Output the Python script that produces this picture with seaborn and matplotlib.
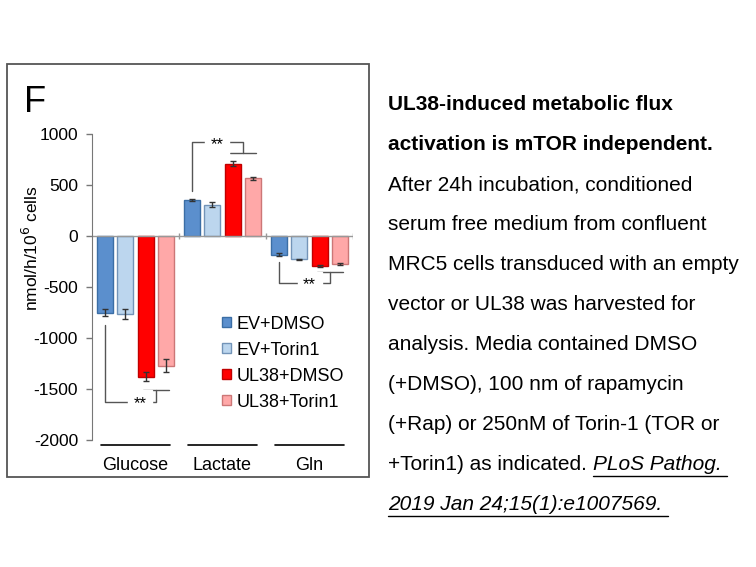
import numpy as np
import pandas as pd
import matplotlib
matplotlib.use("Agg")
import matplotlib.pyplot as plt
import seaborn as sns
from matplotlib.lines import Line2D
from matplotlib.patches import Rectangle

# === 1. Data ===
metabolites = ["Glucose", "Lactate", "Gln"]
conditions = ["EV+DMSO", "EV+Torin1", "UL38+DMSO", "UL38+Torin1"]
flux_ev_dmso = [-750, 355, -185]
flux_ev_torin = [-765, 305, -230]
flux_ul38_dmso = [-1380, 710, -295]
flux_ul38_torin = [-1270, 565, -275]
err_ev_dmso = [30, 10, 15]
err_ev_torin = [45, 25, 8]
err_ul38_dmso = [45, 25, 8]
err_ul38_torin = [65, 18, 10]

bar_colors = ["#5b8fcd", "#bcd6ee", "#ff0000", "#ffa8a8"]
edge_colors = ["#3b6ea5", "#7394b8", "#c00000", "#cc7777"]

values = [flux_ev_dmso, flux_ev_torin, flux_ul38_dmso, flux_ul38_torin]
errors = [err_ev_dmso, err_ev_torin, err_ul38_dmso, err_ul38_torin]
df = pd.DataFrame({
    "metabolite": np.tile(metabolites, len(conditions)),
    "condition": np.repeat(conditions, len(metabolites)),
    "flux": np.concatenate(values),
    "err": np.concatenate(errors),
})

# === 2. Figure ===
sns.set_style("white")
plt.rcParams["font.family"] = ["Liberation Sans", "DejaVu Sans"]
plt.rcParams["axes.unicode_minus"] = False
plt.rcParams["text.color"] = "black"
plt.rcParams["axes.labelcolor"] = "black"
plt.rcParams["ytick.color"] = "black"
plt.rcParams["xtick.color"] = "black"
W, H = 756, 567
fig = plt.figure(figsize=(W / 100, H / 100), dpi=100)
ax = fig.add_axes([92 / W, 1 - 440 / H, 261 / W, 306 / H])

sns.barplot(data=df, x="metabolite", y="flux", hue="condition",
            order=metabolites, hue_order=conditions,
            palette=bar_colors, saturation=1, width=0.94, gap=0.2,
            errorbar=None, ax=ax, linewidth=1.0)

# edges + error bars
bar_conts = list(ax.containers)
for ci, cont in enumerate(bar_conts):
    for bi, patch in enumerate(cont.patches):
        patch.set_edgecolor(edge_colors[ci])
        cx = patch.get_x() + patch.get_width() / 2
        ax.errorbar(cx, values[ci][bi], yerr=errors[ci][bi], fmt="none",
                    ecolor="#333333", elinewidth=1.0, capsize=2.5, capthick=1.0,
                    zorder=5)

# bar centres for brackets
centers = [[p.get_x() + p.get_width() / 2 for p in c.patches] for c in bar_conts]

ax.set_ylim(-2000, 1000)
ax.set_xlim(-0.5, 2.5)
ax.set_yticks([1000, 500, 0, -500, -1000, -1500, -2000])
ax.tick_params(axis="y", direction="out", length=4, width=1, color="#777777",
               labelsize=12.5, pad=6, left=True)
ax.tick_params(axis="x", length=0, labelsize=13, pad=12)
ax.set_xlabel("")
ax.set_ylabel("nmol/h/10$^6$ cells", fontsize=12.5)
ax.yaxis.set_label_coords(-0.195, 0.627)
for s in ["top", "right", "bottom"]:
    ax.spines[s].set_visible(False)
ax.spines["left"].set_color("#777777")
ax.axhline(0, color="#999999", lw=1.0, zorder=1)
ax.vlines([0.5, 1.5, 2.5], -25, 25, color="#999999", lw=1.0)

# group underlines
trans = ax.get_xaxis_transform()
for gi in range(len(metabolites)):
    ax.plot([gi - 0.4, gi + 0.4], [-0.017, -0.017], color="black", lw=1.2,
            transform=trans, clip_on=False)

# significance brackets
bk = "#555555"
def bracket(x0, y0, ymid, x1, y1, xa, xb, label_y, label_x):
    ax.plot([x0, x0, x1, x1], [y0, ymid, ymid, y1], color=bk, lw=1.0)
    ax.plot([xa, xb], [y1, y1], color=bk, lw=1.0)
    ax.text(label_x, label_y, "**", ha="center", va="center", fontsize=12,
            backgroundcolor="white", zorder=6)

# Glucose
pair = (centers[2][0] + centers[3][0]) / 2
bracket(centers[0][0], -870, -1625, pair, -1510,
        centers[2][0] - 0.03, centers[3][0] + 0.03, -1640, 0.05)
# Lactate
pair = (centers[2][1] + centers[3][1]) / 2
bracket(centers[0][1], 440, 920, pair, 815,
        centers[2][1] - 0.03, centers[3][1] + 0.03, 900, (centers[0][1] + pair) / 2)
# Gln
pair = (centers[2][2] + centers[3][2]) / 2
bracket(centers[0][2], -255, -460, pair, -355,
        centers[2][2] - 0.03, centers[3][2] + 0.03, -480, 2.0)

leg = ax.legend(loc="upper left", bbox_to_anchor=(0.47, 0.43), frameon=False,
                fontsize=13, handlelength=0.5, handleheight=0.5,
                handletextpad=0.3, labelspacing=0.5, borderaxespad=0)
for h, ec in zip(leg.legend_handles, edge_colors):
    h.set_edgecolor(ec)

# panel frame and letter
fig.add_artist(Rectangle((7 / W, 1 - 477 / H), 362 / W, 413 / H,
                         transform=fig.transFigure, fill=False,
                         edgecolor="#555555", lw=1.3))
fig.text(24 / W, 1 - 112 / H, "F", fontsize=26, ha="left", va="baseline")

# === 3. Caption text ===
x0 = 388 / W
lines = [
    ("UL38-induced metabolic flux", "bold"),
    ("activation is mTOR independent.", "bold"),
    ("After 24h incubation, conditioned", "normal"),
    ("serum free medium from confluent", "normal"),
    ("MRC5 cells transduced with an empty", "normal"),
    ("vector or UL38 was harvested for", "normal"),
    ("analysis. Media contained DMSO", "normal"),
    ("(+DMSO), 100 nm of rapamycin", "normal"),
    ("(+Rap) or 250nM of Torin-1 (TOR or", "normal"),
]
ys = [105 + 40 * i for i in range(11)]
fs = 15
for (txt, wt), y in zip(lines, ys):
    fig.text(x0, 1 - y / H, txt, fontsize=fs, fontweight=wt, va="center", ha="left")

t1 = fig.text(x0, 1 - ys[9] / H, "+Torin1) as indicated. ", fontsize=fs,
              va="center", ha="left")
fig.canvas.draw()
r = fig.canvas.get_renderer()
bb = t1.get_window_extent(r)
t2 = fig.text(bb.x1 / W, 1 - ys[9] / H, "PLoS Pathog. ", fontsize=fs,
              style="italic", va="center", ha="left")
t3 = fig.text(x0, 1 - ys[10] / H, "2019 Jan 24;15(1):e1007569. ", fontsize=fs,
              style="italic", va="center", ha="left")
fig.canvas.draw()
for t, y in [(t2, ys[9]), (t3, ys[10])]:
    b = t.get_window_extent(r)
    yl = 1 - (y + 11) / H
    fig.add_artist(Line2D([b.x0 / W, b.x1 / W], [yl, yl], color="black",
                          lw=1.0, transform=fig.transFigure))

fig.savefig("out.png", dpi=100)
